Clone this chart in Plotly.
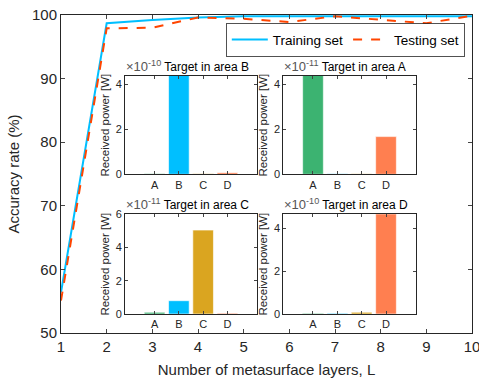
import plotly.graph_objects as go

# ---- data ----
layers = [1, 2, 3, 4, 5, 6, 7, 8, 9, 10]
training_acc = [56.4, 98.7, 99.2, 99.6, 99.8, 99.8, 99.8, 99.8, 99.8, 99.8]
testing_acc = [55.1, 97.9, 98.0, 99.6, 99.4, 98.9, 99.8, 99.3, 98.7, 99.9]

areas = ["A", "B", "C", "D"]
area_colors = ["#3CB371", "#00BFFF", "#DAA520", "#FF7F50"]

# received power (scaled by 10^exp) for each target case
target_B = [0.02, 5.2, 0.02, 0.07]     # x1e-10
target_A = [5.0, 0.03, 0.03, 1.68]     # x1e-11
target_C = [0.1, 0.8, 5.05, 0.05]      # x1e-11
target_D = [0.03, 0.03, 0.08, 5.5]     # x1e-10

insets = [
    ("Target in area B", -10, target_B, 4.38, [0, 2, 4]),
    ("Target in area A", -11, target_A, 4.38, [0, 2, 4]),
    ("Target in area C", -11, target_C, 6.0, [0, 2, 4, 6]),
    ("Target in area D", -10, target_D, 4.65, [0, 2, 4]),
]

# ---- layout geometry ----
W, H = 479, 383
L, R, T, B = 61, 7, 15, 50
pw, ph = W - L - R, H - T - B


def xd(px):
    return (px - L) / pw


def yd(py):
    return (H - B - py) / ph


inset_boxes = [
    (125, 257, 76, 174.3),
    (283.3, 415.7, 76, 174.3),
    (125, 257, 214.3, 314),
    (283.3, 415.7, 214.3, 314),
]

FONT = "Liberation Sans, Arial, sans-serif"
fig = go.Figure()

fig.add_trace(go.Scatter(x=layers, y=training_acc, mode="lines", name="Training set",
                         line=dict(color="#00BFFF", width=2)))
fig.add_trace(go.Scatter(x=layers, y=testing_acc, mode="lines", name="Testing set",
                         line=dict(color="#FF4500", width=2, dash="dash")))

layout = dict(
    width=W, height=H, autosize=False,
    margin=dict(l=L, r=R, t=T, b=B, pad=0, autoexpand=False),
    paper_bgcolor="white", plot_bgcolor="white",
    font=dict(family=FONT, color="#262626"),
    showlegend=True,
    legend=dict(orientation="h", x=xd(226), y=yd(23.5), xanchor="left", yanchor="top",
                bordercolor="#262626", borderwidth=0.8, bgcolor="white",
                font=dict(size=13.5, color="#000"), itemwidth=36,
                tracegroupgap=0),
    xaxis=dict(domain=[0, 1], range=[1, 10], tickvals=list(range(1, 11)),
               ticks="inside", ticklen=4, mirror="ticks", showline=True, automargin=False,
               ticklabeloverflow="allow",
               linecolor="#262626", linewidth=1, showgrid=False, zeroline=False,
               tickfont=dict(size=15), title=dict(text="Number of metasurface layers, L",
                                                  font=dict(size=15), standoff=10)),
    yaxis=dict(domain=[0, 1], range=[50, 100], tickvals=[50, 60, 70, 80, 90, 100],
               ticks="inside", ticklen=4, mirror="ticks", showline=True, automargin=False,
               ticklabeloverflow="allow",
               linecolor="#262626", linewidth=1, showgrid=False, zeroline=False,
               tickfont=dict(size=15), title=dict(text="Accuracy rate (%)",
                                                  font=dict(size=15), standoff=8)),
)

annotations = []
shapes = []
for i, ((title, exp, vals, ymax, yt), (x0, x1, y0, y1)) in enumerate(zip(insets, inset_boxes)):
    n = i + 2
    xa, ya = f"x{n}", f"y{n}"
    shapes.append(dict(type="rect", xref="paper", yref="paper",
                       x0=xd(x0), x1=xd(x1), y0=yd(y1), y1=yd(y0),
                       fillcolor="white", line=dict(width=0), layer="below"))
    fig.add_trace(go.Bar(x=[1, 2, 3, 4], y=vals, marker=dict(color=area_colors,
                         line=dict(color="rgba(255,255,255,0.6)", width=1)),
                         width=0.85, xaxis=xa, yaxis=ya, showlegend=False))
    layout[f"xaxis{n}"] = dict(domain=[xd(x0), xd(x1)], anchor=ya, range=[-0.22, 5.22],
                               tickvals=[1, 2, 3, 4], ticktext=areas, ticks="inside",
                               ticklen=3, mirror="ticks", showline=True, automargin=False,
                               linecolor="#262626", linewidth=1, showgrid=False,
                               zeroline=False, tickfont=dict(size=11))
    layout[f"yaxis{n}"] = dict(domain=[yd(y1), yd(y0)], anchor=xa, range=[0, ymax],
                               tickvals=yt, ticks="inside", ticklen=3, mirror="ticks",
                               showline=True, linecolor="#262626", linewidth=1,
                               automargin=False,
                               showgrid=False, zeroline=False, tickfont=dict(size=11),
                               title=dict(text="Received power [W]", font=dict(size=11.5),
                                          standoff=3))
    annotations.append(dict(xref="paper", yref="paper", x=xd(x0 - 1), y=yd(y0 - 0.5),
                            xanchor="left", yanchor="bottom", showarrow=False,
                            text=f"<span style='color:#555;font-size:13px'>×10<sup>{exp}</sup></span> {title}",
                            font=dict(size=12, color="#000")))

layout["annotations"] = annotations
layout["shapes"] = shapes
fig.update_layout(**layout)
fig.write_html(
    "out.html",
    config={"displayModeBar": False, "responsive": False},
    post_script="document.body.style.margin='0';document.body.style.overflow='hidden';"
                "document.documentElement.style.overflow='hidden';",
)
